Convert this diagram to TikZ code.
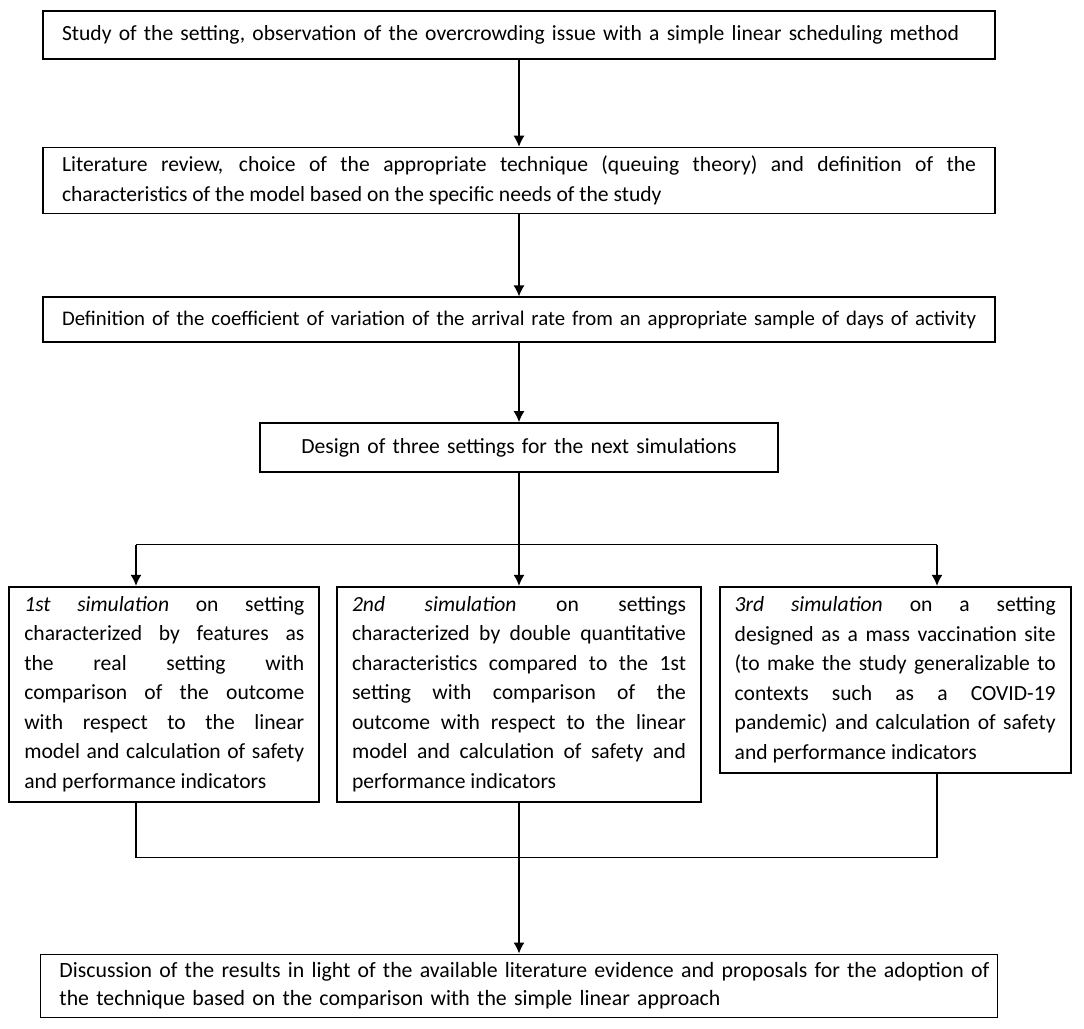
\documentclass[tikz,border=0pt]{standalone}
\usepackage{fontspec}
\setmainfont{Carlito}
\usetikzlibrary{positioning, arrows.meta}

\begin{document}
\begin{tikzpicture}[
        stage/.style = {draw, black, line width=0.85pt, inner xsep=9.5pt, inner ysep=2pt, align=left, font=\fontsize{10.8}{14.75}\selectfont},
        sim/.style = {draw, black, line width=0.85pt, inner xsep=7.5pt, inner ysep=2pt, align=justify, minimum height=107.5pt, font=\fontsize{10.8}{14.75}\selectfont},
        arrow/.style = {-{Latex[length=5.5pt, width=5.5pt]}, line width=0.6pt},
        link/.style = {line width=0.6pt}
    ]
        \useasboundingbox (0,0) rectangle (542pt,-514.5pt);

        \node[stage, anchor=north, text width=457pt, minimum height=24pt] (study) at (259.5pt,-5pt) {Study of the setting, observation of the overcrowding issue with a simple linear scheduling method};
        \node[stage, below=43.5pt of study, text width=457pt, minimum height=33pt, align=justify] (review) {Literature review, choice of the appropriate technique (queuing theory) and definition of the\linebreak characteristics of the model based on the specific needs of the study};
        \node[stage, below=41pt of review, text width=457pt, minimum height=22.5pt, font=\fontsize{10.4}{14.75}\selectfont] (coeff) {\mbox{Definition of the coefficient of variation of the arrival rate from an appropriate sample of days of activity}};
        \node[stage, below=39.5pt of coeff, text width=240pt, minimum height=24.5pt, align=center] (design) {Design of three settings for the next simulations};

        \node[sim, below=56.5pt of design, text width=167pt] (sim2) {\textit{2nd simulation} on settings\linebreak characterized by double quantitative\linebreak characteristics compared to the 1st\linebreak setting with comparison of the\linebreak outcome with respect to the linear\linebreak model and calculation of safety and\linebreak performance indicators};
        \node[sim, left=8pt of sim2, text width=140pt] (sim1) {\textit{1st simulation} on setting\linebreak characterized by features as\linebreak the real setting with\linebreak comparison of the outcome\linebreak with respect to the linear\linebreak model and calculation of safety\linebreak and performance indicators};
        \node[sim, right=8.5pt of sim2.north east, anchor=north west, text width=160.5pt, minimum height=93pt] (sim3) {\textit{3rd simulation} on a setting\linebreak designed as a mass vaccination site\linebreak (to make the study generalizable to\linebreak contexts such as a COVID-19\linebreak pandemic) and calculation of safety\linebreak and performance indicators};

        \node[stage, below=75.5pt of sim2, text width=459.5pt, minimum height=31.5pt, font=\fontsize{10.9}{14}\selectfont] (discuss) {\mbox{Discussion of the results in light of the available literature evidence and proposals for the adoption of}\\ \mbox{the technique based on the comparison with the simple linear approach}};

        \coordinate[below=36pt of design] (fork);
        \coordinate[left=191.5pt of fork] (forkL);
        \coordinate[right=209pt of fork] (forkR);
        \coordinate[below=27.5pt of sim2] (join);
        \coordinate (joinL) at (forkL |- join);
        \coordinate (joinR) at (forkR |- join);

        \draw[arrow] (study) -- (review);
        \draw[arrow] (review) -- (coeff);
        \draw[arrow] (coeff) -- (design);

        \draw[link] (design) -- (fork);
        \draw[link] (forkL) -- (forkR);
        \draw[arrow] (forkL) -- (forkL |- sim1.north);
        \draw[arrow] (fork) -- (sim2);
        \draw[arrow] (forkR) -- (forkR |- sim3.north);

        \draw[link] (forkL |- sim1.south) -- (joinL) -- (joinR) -- (forkR |- sim3.south);
        \draw[arrow] (sim2) -- (discuss);
    \end{tikzpicture}
\end{document}
